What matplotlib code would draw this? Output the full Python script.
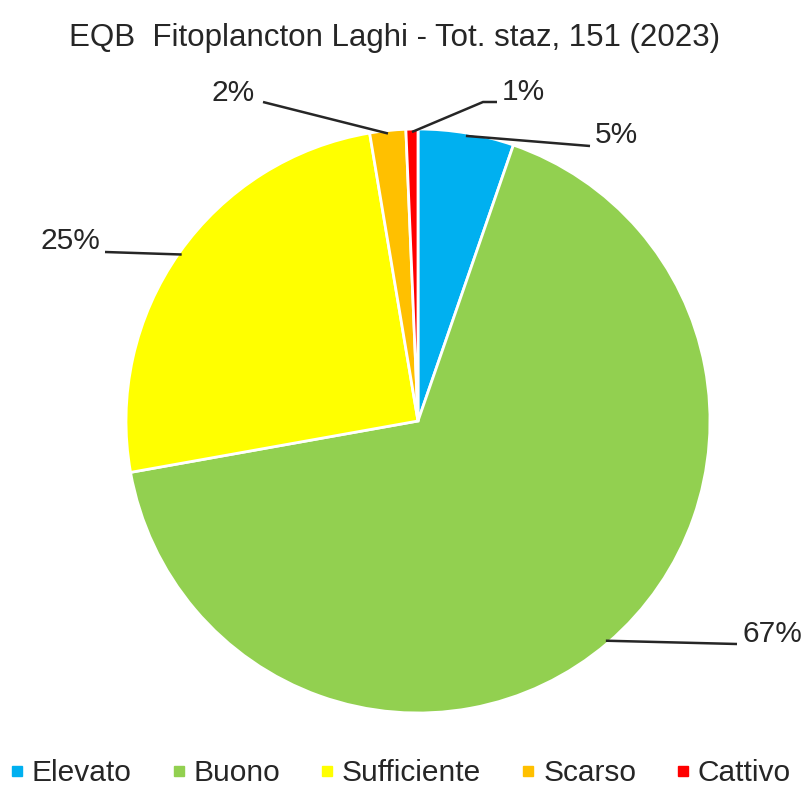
import matplotlib.pyplot as plt
import numpy as np
from matplotlib.lines import Line2D

plt.rcParams['font.family'] = ['Liberation Sans', 'DejaVu Sans']

# dati: numero stazioni per classe (tot. 151)
classi = ['Elevato', 'Buono', 'Sufficiente', 'Scarso', 'Cattivo']
stazioni = [8, 101, 38, 3, 1]
etichette = ['5%', '67%', '25%', '2%', '1%']
colori = ['#00B0F0', '#92D050', '#FFFF00', '#FFC000', '#FF0000']

W, H = 806, 787
cx, cy, R = 418, H - 421, 292

fig = plt.figure(figsize=(W / 100, H / 100), dpi=100)
ax = fig.add_axes([0, 0, 1, 1])

wedges, _ = ax.pie(stazioni, colors=colori, startangle=90, counterclock=False,
                   center=(cx, cy), radius=R,
                   wedgeprops=dict(edgecolor='white', linewidth=2))

# pie() cambia i limiti, quindi li rimetto dopo
ax.set_xlim(0, W)
ax.set_ylim(0, H)
ax.set_aspect('equal')
ax.axis('off')

# linee guida: punti dopo l'ancora sulla fetta (in pixel dall'alto)
percorsi = [
    [(590, 146)],
    [(737, 644)],
    [(105, 252)],
    [(263, 102)],
    [(483, 102), (497, 102)],
]
allinea = ['left', 'left', 'right', 'right', 'left']
dy_testo = [11, 10, 11, 9, 10]
dx_testo = [5, 5, -5, -8, 5]

for w, lab, pts, ha, dy, dx in zip(wedges, etichette, percorsi, allinea, dy_testo, dx_testo):
    ang = np.deg2rad((w.theta1 + w.theta2) / 2)
    xs = [cx + 0.99 * R * np.cos(ang)] + [p[0] for p in pts]
    ys = [cy + 0.99 * R * np.sin(ang)] + [H - p[1] for p in pts]
    ax.plot(xs, ys, color='#262626', lw=1.8, solid_capstyle='butt')
    ax.text(xs[-1] + dx, ys[-1] + dy, lab, ha=ha, va='center', fontsize=21.5, color='#262626')

ax.text(395, H - 38, 'EQB  Fitoplancton Laghi - Tot. staz, 151 (2023)',
        ha='center', va='center', fontsize=22.5, color='#262626')

maniglie = [Line2D([], [], marker='s', color=c, linestyle='none', markersize=7) for c in colori]
fig.legend(maniglie, classi, loc='center', bbox_to_anchor=(0.4975, 1 - 773 / H), ncol=5,
           frameon=False, fontsize=21.5, handletextpad=0.3, columnspacing=1.37,
           handlelength=0.4, labelcolor='#262626')

fig.savefig('out.png', dpi=100, facecolor='white')
